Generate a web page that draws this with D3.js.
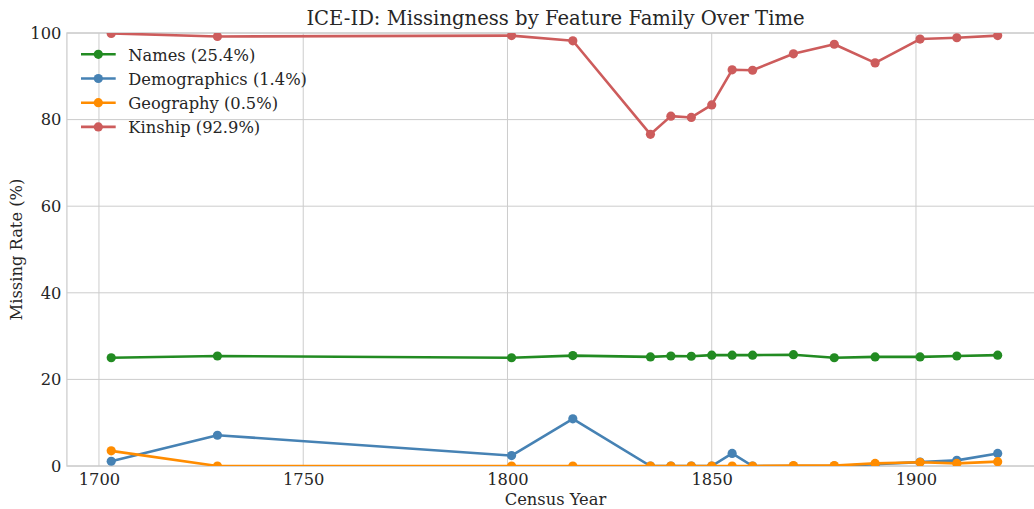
<!DOCTYPE html>
<html>
<head>
<meta charset="utf-8">
<script src="https://cdn.jsdelivr.net/npm/d3@7"></script>
<style>
  html, body { margin: 0; padding: 0; background: #fff; }
  svg { display: block; font-family: "DejaVu Serif", serif; }
</style>
</head>
<body>
<svg id="chart" width="1034" height="509"></svg>
<script>
const years = [1703, 1729, 1801, 1816, 1835, 1840, 1845, 1850, 1855, 1860, 1870, 1880, 1890, 1901, 1910, 1920];
const names = [25.0, 25.4, 25.0, 25.5, 25.2, 25.4, 25.35, 25.6, 25.6, 25.6, 25.7, 25.0, 25.2, 25.2, 25.4, 25.6];
const demographics = [1.1, 7.1, 2.4, 10.9, 0, 0, 0, 0, 2.9, 0, 0, 0, 0.4, 0.9, 1.3, 2.9];
const geography = [3.5, 0, 0, 0, 0, 0, 0, 0, 0, 0, 0.1, 0.1, 0.6, 0.85, 0.6, 1.0];
const kinship = [99.9, 99.2, 99.4, 98.2, 76.6, 80.8, 80.5, 83.4, 91.5, 91.4, 95.2, 97.4, 93.1, 98.6, 98.9, 99.4];
const seriesNames = ["Names (25.4%)", "Demographics (1.4%)", "Geography (0.5%)", "Kinship (92.9%)"];
const seriesColors = ["#228B22", "#4682B4", "#FF8C00", "#CD5C5C"];
const xTicks = [1700, 1750, 1800, 1850, 1900];
const yTicks = [0, 20, 40, 60, 80, 100];
const titleText = "ICE-ID: Missingness by Feature Family Over Time";
const xLabel = "Census Year";
const yLabel = "Missing Rate (%)";

const seriesValues = [names, demographics, geography, kinship];
const svg = d3.select("#chart");
const pLeft = 66.9, pRight = 1042, pTop = 33, pBottom = 466;
const fs = 16.3, titleFs = 19.6;

const x = d3.scaleLinear().domain([1692.15, 1930.85]).range([pLeft, pRight]);
const y = d3.scaleLinear().domain([0, 100]).range([pBottom, pTop]);

const grid = "#cccccc";
const textColor = "#262626";

svg.append("defs").append("clipPath").attr("id", "plotclip")
  .append("rect").attr("x", pLeft).attr("y", pTop).attr("width", pRight - pLeft).attr("height", pBottom - pTop);

svg.append("g").selectAll("line").data(xTicks).enter().append("line")
  .attr("x1", d => x(d)).attr("x2", d => x(d)).attr("y1", pTop).attr("y2", pBottom)
  .attr("stroke", grid).attr("stroke-width", 1);
svg.append("g").selectAll("line").data(yTicks).enter().append("line")
  .attr("x1", pLeft).attr("x2", pRight).attr("y1", d => y(d)).attr("y2", d => y(d))
  .attr("stroke", grid).attr("stroke-width", 1);

svg.append("rect").attr("x", pLeft).attr("y", pTop).attr("width", pRight - pLeft).attr("height", pBottom - pTop)
  .attr("fill", "none").attr("stroke", grid).attr("stroke-width", 1.25);

const xAxis = d3.axisBottom(x).tickValues(xTicks).tickFormat(d3.format("d")).tickSize(0).tickPadding(7.4);
const gx = svg.append("g").attr("transform", `translate(0,${pBottom})`).call(xAxis);
gx.select(".domain").remove();
gx.selectAll("text").attr("font-size", fs).attr("fill", textColor).attr("font-family", "DejaVu Serif");

const yAxis = d3.axisLeft(y).tickValues(yTicks).tickFormat(d3.format("d")).tickSize(0).tickPadding(5.5);
const gy = svg.append("g").attr("transform", `translate(${pLeft},0)`).call(yAxis);
gy.select(".domain").remove();
gy.selectAll("text").attr("font-size", fs).attr("fill", textColor).attr("font-family", "DejaVu Serif");

const plot = svg.append("g").attr("clip-path", "url(#plotclip)");
const line = d3.line().x((d, i) => x(years[i])).y(d => y(d));
seriesValues.forEach((vals, s) => {
  const g = plot.append("g");
  g.append("path").datum(vals).attr("d", line).attr("fill", "none")
    .attr("stroke", seriesColors[s]).attr("stroke-width", 2.6).attr("stroke-linejoin", "round").attr("stroke-linecap", "round");
  g.selectAll("circle").data(vals).enter().append("circle")
    .attr("cx", (d, i) => x(years[i])).attr("cy", d => y(d)).attr("r", 4.6)
    .attr("fill", seriesColors[s]);
});

svg.append("text").attr("x", 555.5).attr("y", 25).attr("text-anchor", "middle")
  .attr("font-size", titleFs).attr("fill", textColor).text(titleText);
svg.append("text").attr("x", 555.5).attr("y", 505).attr("text-anchor", "middle")
  .attr("font-size", fs).attr("fill", textColor).text(xLabel);
svg.append("text").attr("transform", `translate(21.5,${(pTop + pBottom) / 2}) rotate(-90)`).attr("text-anchor", "middle")
  .attr("font-size", fs).attr("fill", textColor).text(yLabel);

const lg = svg.append("g");
seriesNames.forEach((nm, i) => {
  const yy = 54.3 + i * 24.2;
  lg.append("line").attr("x1", 81).attr("x2", 115.7).attr("y1", yy).attr("y2", yy)
    .attr("stroke", seriesColors[i]).attr("stroke-width", 2.6);
  lg.append("circle").attr("cx", 98.3).attr("cy", yy).attr("r", 4.6).attr("fill", seriesColors[i]);
  lg.append("text").attr("x", 128.3).attr("y", yy + 6.5).attr("font-size", fs).attr("fill", textColor).text(nm);
});
</script>
</body>
</html>
